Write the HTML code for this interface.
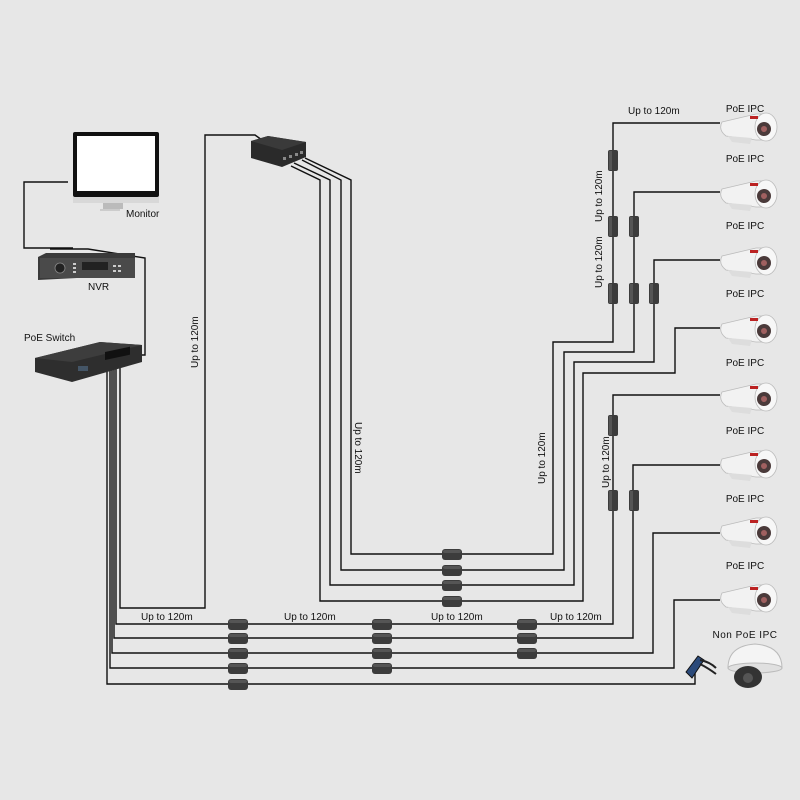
<!DOCTYPE html>
<html><head><meta charset="utf-8"><style>
html,body{margin:0;padding:0;background:#e7e7e7;}
svg{display:block;}
text{font-family:"Liberation Sans",sans-serif;font-size:10px;fill:#111;}
</style></head><body>
<svg width="800" height="800" viewBox="0 0 800 800" xmlns="http://www.w3.org/2000/svg">
<defs>
<g id="cam">
  <path d="M0,-6 L34,-14 L44,-14 L44,12 L34,12 L4,8 Q-4,2 0,-6 Z" fill="#f2f2f2" stroke="#bbb" stroke-width="0.8"/>
  <path d="M6,8 L30,10 L28,16 L10,14 Z" fill="#ddd"/>
  <ellipse cx="44" cy="-1" rx="11" ry="14" fill="#f7f7f7" stroke="#bbb" stroke-width="0.8"/>
  <circle cx="42" cy="1" r="7" fill="#4a3a3a"/>
  <circle cx="42" cy="1" r="3" fill="#a06060"/>
  <rect x="28" y="-12" width="8" height="3" fill="#b22"/>
</g>
<g id="inj"><rect x="0" y="0" width="20" height="11" rx="3" fill="#3c3c3c"/><rect x="1" y="1" width="18" height="3" rx="2" fill="#555"/></g>
<g id="vinj"><rect x="0" y="0" width="10" height="21" rx="2" fill="#3c3c3c"/><rect x="1" y="1" width="3" height="19" fill="#555"/></g>
</defs>
<rect width="800" height="800" fill="#e7e7e7"/>

<g fill="none" stroke="#111" stroke-width="1.4">
  <!-- monitor/nvr/switch -->
  <path d="M68,182 H24 V248 H73"/>
  <path d="M50,249 H88 L145,258 V355 H137"/>
  <!-- switch down lines -->
  <path d="M107,360 V684 H695 V670"/>
  <path d="M110,360 V668 H674 V600 H720"/>
  <path d="M112,360 V653 H653 V533 H720"/>
  <path d="M114,360 V638 H633 V465 H720"/>
  <path d="M116,360 V624 H613 V395 H720"/>
  <path d="M120,360 V608 H205 V135 H255 L262,140"/>
  <!-- extender lines -->
  <path d="M291,166 L320,180 V601 H583 V373 H675 V328 H720"/>
  <path d="M294,163 L330,180 V585 H574 V362 H654 V260 H720"/>
  <path d="M302,160 L341,180 V570 H564 V352 H634 V192 H720"/>
  <path d="M305,158 L351,180 V554 H553 V342 H613 V123 H720"/>
</g>

<!-- injectors horizontal -->
<use href="#inj" x="228" y="619"/><use href="#inj" x="228" y="633"/><use href="#inj" x="228" y="648"/><use href="#inj" x="228" y="663"/><use href="#inj" x="228" y="679"/>
<use href="#inj" x="372" y="619"/><use href="#inj" x="372" y="633"/><use href="#inj" x="372" y="648"/><use href="#inj" x="372" y="663"/>
<use href="#inj" x="517" y="619"/><use href="#inj" x="517" y="633"/><use href="#inj" x="517" y="648"/>
<use href="#inj" x="442" y="549"/><use href="#inj" x="442" y="565"/><use href="#inj" x="442" y="580"/><use href="#inj" x="442" y="596"/>
<!-- vertical injectors -->
<use href="#vinj" x="608" y="150"/>
<use href="#vinj" x="608" y="216"/><use href="#vinj" x="629" y="216"/>
<use href="#vinj" x="608" y="283"/><use href="#vinj" x="629" y="283"/><use href="#vinj" x="649" y="283"/>
<use href="#vinj" x="608" y="415"/>
<use href="#vinj" x="608" y="490"/><use href="#vinj" x="629" y="490"/>

<!-- cameras -->
<use href="#cam" x="722" y="128"/><use href="#cam" x="722" y="195"/><use href="#cam" x="722" y="262"/><use href="#cam" x="722" y="330"/>
<use href="#cam" x="722" y="398"/><use href="#cam" x="722" y="465"/><use href="#cam" x="722" y="532"/><use href="#cam" x="722" y="599"/>

<!-- dome camera -->
<path d="M728,668 Q728,646 755,644 Q782,646 782,668 Z" fill="#f4f4f4" stroke="#bbb"/>
<ellipse cx="755" cy="668" rx="27" ry="5" fill="#e0e0e0" stroke="#bbb"/>
<ellipse cx="748" cy="677" rx="14" ry="11" fill="#333"/>
<circle cx="748" cy="678" r="5" fill="#555"/>
<!-- adapter -->
<path d="M686,672 L698,656 L704,660 L692,678 Z" fill="#2b4a7a" stroke="#111"/>
<path d="M700,660 Q710,662 716,668 M700,664 Q708,668 716,674" stroke="#222" stroke-width="2" fill="none"/>

<!-- monitor -->
<rect x="73" y="132" width="86" height="65" rx="2" fill="#111"/>
<rect x="77" y="136" width="78" height="55" fill="#fff"/>
<rect x="73" y="197" width="86" height="6" fill="#d8d8d8"/>
<rect x="103" y="203" width="20" height="6" fill="#bbb"/>
<rect x="100" y="209" width="20" height="2" fill="#ccc"/>

<!-- NVR -->
<path d="M38,257 L46,253 L135,253 L135,275 L38,280 Z" fill="#3a3a3a"/>
<rect x="40" y="258" width="95" height="20" fill="#4a4a4a"/>
<circle cx="60" cy="268" r="5" fill="#222" stroke="#888" stroke-width="0.8"/>
<rect x="82" y="262" width="26" height="8" fill="#222"/>
<g fill="#ccc"><rect x="73" y="263" width="3" height="2"/><rect x="73" y="267" width="3" height="2"/><rect x="73" y="271" width="3" height="2"/><rect x="113" y="265" width="3" height="2"/><rect x="118" y="265" width="3" height="2"/><rect x="113" y="270" width="3" height="2"/><rect x="118" y="270" width="3" height="2"/></g>

<!-- PoE switch -->
<path d="M35,358 L100,342 L142,345 L142,362 L72,382 L35,372 Z" fill="#2e2e2e"/>
<path d="M35,358 L100,342 L142,345 L72,362 Z" fill="#3d3d3d"/>
<rect x="105" y="352" width="25" height="8" fill="#111" transform="skewY(-12)" transform-origin="105 360"/>
<rect x="78" y="366" width="10" height="5" fill="#456"/>

<!-- extender -->
<path d="M251,141 L268,136 L306,142 L306,157 L282,167 L251,158 Z" fill="#2a2a2a"/>
<path d="M251,141 L268,136 L306,142 L282,150 Z" fill="#3a3a3a"/>
<g fill="#888"><rect x="283" y="157" width="3" height="3"/><rect x="289" y="155" width="3" height="3"/><rect x="295" y="153" width="3" height="3"/><rect x="300" y="151" width="3" height="3"/></g>

<!-- labels -->
<text x="126" y="217">Monitor</text>
<text x="88" y="290">NVR</text>
<text x="24" y="341">PoE Switch</text>
<text x="141" y="620">Up to 120m</text>
<text x="284" y="620">Up to 120m</text>
<text x="431" y="620">Up to 120m</text>
<text x="550" y="620">Up to 120m</text>
<text x="628" y="114">Up to 120m</text>
<text transform="translate(198,368) rotate(-90)">Up to 120m</text>
<text transform="translate(355,422) rotate(90)">Up to 120m</text>
<text transform="translate(545,484) rotate(-90)">Up to 120m</text>
<text transform="translate(602,222) rotate(-90)">Up to 120m</text>
<text transform="translate(602,288) rotate(-90)">Up to 120m</text>
<text transform="translate(609,488) rotate(-90)">Up to 120m</text>
<g text-anchor="middle">
<text x="745" y="112">PoE IPC</text>
<text x="745" y="162">PoE IPC</text>
<text x="745" y="229">PoE IPC</text>
<text x="745" y="297">PoE IPC</text>
<text x="745" y="366">PoE IPC</text>
<text x="745" y="434">PoE IPC</text>
<text x="745" y="502">PoE IPC</text>
<text x="745" y="569">PoE IPC</text>
<text x="745" y="638" letter-spacing="0.5">Non PoE IPC</text>
</g>
</svg>
</body></html>
